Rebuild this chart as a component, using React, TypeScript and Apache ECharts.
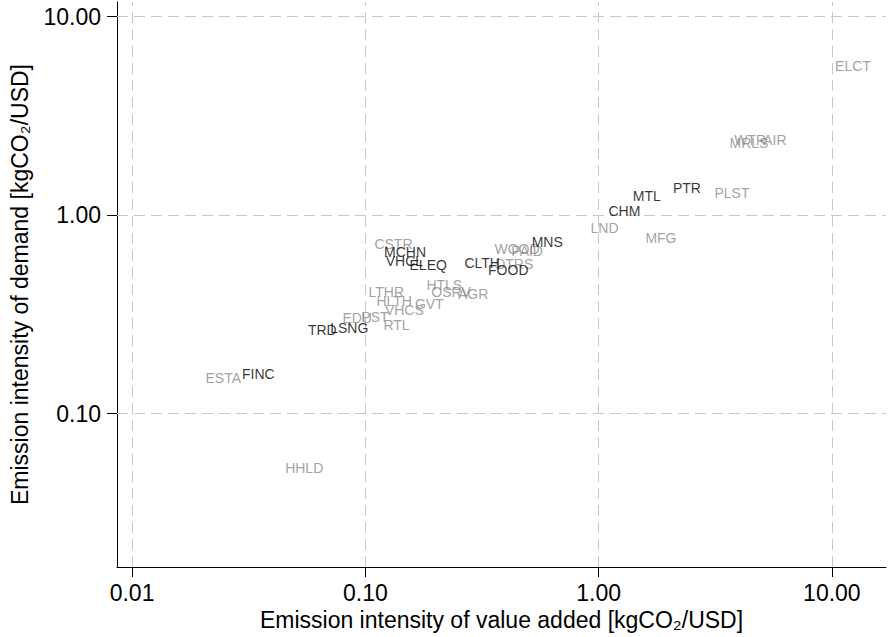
import React, { useEffect, useRef } from "react";
import * as echarts from "echarts";

const sectors = ["ELCT", "MRLS", "WTR", "AIR", "PLST", "PTR", "MTL", "CHM", "LND", "MFG", "MNS", "WOOD", "PAID", "DTRS", "FOOD", "CLTH", "ELEQ", "VHCL", "MCHN", "CSTR", "HTLS", "OSRV", "AGR", "LTHR", "HLTH", "GVT", "VHCS", "EDU", "PST", "RTL", "LSNG", "TRD", "ESTA", "FINC", "HHLD"];
const valueAddedIntensity = [12.31, 4.41, 4.46, 5.7, 3.73, 2.39, 1.61, 1.29, 1.06, 1.85, 0.602, 0.447, 0.494, 0.435, 0.41, 0.317, 0.186, 0.147, 0.148, 0.132, 0.218, 0.233, 0.29, 0.123, 0.133, 0.188, 0.147, 0.0923, 0.11, 0.136, 0.0853, 0.0654, 0.0246, 0.0348, 0.0547];
const demandIntensity = [5.64, 2.31, 2.39, 2.39, 1.29, 1.37, 1.25, 1.05, 0.86, 0.766, 0.731, 0.674, 0.659, 0.566, 0.528, 0.573, 0.56, 0.586, 0.651, 0.714, 0.444, 0.409, 0.4, 0.409, 0.368, 0.356, 0.332, 0.302, 0.306, 0.279, 0.269, 0.263, 0.151, 0.158, 0.053];
const highlighted = ["PTR", "MTL", "CHM", "MNS", "FOOD", "CLTH", "ELEQ", "VHCL", "MCHN", "LSNG", "TRD", "FINC"];
const xTickValues = [0.01, 0.1, 1, 10];
const yTickValues = [0.1, 1, 10];

const FONT = "'Liberation Sans', Arial, Helvetica, sans-serif";
const GRAY = "#8a8a8a";

export default function App() {
  const ref = useRef<HTMLDivElement>(null);
  useEffect(() => {
    if (!ref.current) return;
    const chart = echarts.init(ref.current, null, { renderer: "svg" });
    const points = sectors.map((s, i) => ({ name: s, value: [valueAddedIntensity[i], demandIntensity[i]] }));
    const grayPts = points.filter((p) => !highlighted.includes(p.name));
    const blackPts = points.filter((p) => highlighted.includes(p.name));
    const fmt = (v: number) => Number(v).toFixed(2);
    const axisCommon = {
      type: "log",
      logBase: 10,
      nameLocation: "middle",
      nameTextStyle: { fontSize: 23, color: "#000", fontFamily: FONT },
      axisLine: { show: true, onZero: false, lineStyle: { color: "#000", width: 1 } },
      minorTick: { show: false },
      minorSplitLine: { show: false },
      splitLine: { show: false },
    };
    const tick = (vals: number[]) => ({ show: true, length: 10, inside: false, customValues: vals, lineStyle: { color: "#000", width: 1 } });
    const label = (vals: number[], margin: number) => ({
      show: true,
      customValues: vals,
      formatter: fmt,
      fontSize: 23,
      color: "#000",
      fontFamily: FONT,
      margin,
    });
    const mkSeries = (data: any[], color: string, extra: any = {}) => ({
      type: "scatter",
      data,
      z: 3,
      symbolSize: 1,
      itemStyle: { color: "rgba(0,0,0,0)" },
      label: {
        show: true,
        position: "inside",
        formatter: (p: any) => p.name,
        color,
        fontSize: 14,
        fontFamily: FONT,
        align: "center",
        verticalAlign: "middle",
      },
      emphasis: { disabled: true },
      ...extra,
    });
    chart.setOption({
      animation: false,
      backgroundColor: "#fff",
      grid: { left: 117, right: 4, top: 2, bottom: 70, containLabel: false },
      xAxis: {
        ...axisCommon,
        min: 0.00862,
        max: 17.06,
        name: "Emission intensity of value added [kgCO₂/USD]",
        nameGap: 37,
        axisTick: tick(xTickValues),
        axisLabel: label(xTickValues, 14),
      },
      yAxis: {
        ...axisCommon,
        min: 0.01684,
        max: 11.86,
        name: "Emission intensity of demand [kgCO₂/USD]",
        nameGap: 86,
        axisTick: tick(yTickValues),
        axisLabel: label(yTickValues, 16),
      },
      series: [
        mkSeries(grayPts, GRAY, {
          markLine: {
            silent: true,
            z: 1,
            symbol: "none",
            animation: false,
            label: { show: false },
            emphasis: { disabled: true },
            lineStyle: { color: "#c8c8c8", width: 1, type: [11, 6] },
            data: [...xTickValues.map((v) => ({ xAxis: v })), ...yTickValues.map((v) => ({ yAxis: v }))],
          },
        }),
        mkSeries(blackPts, "#000"),
      ],
    });
    return () => chart.dispose();
  }, []);
  return <div ref={ref} style={{ position: "fixed", left: 0, top: 0, width: 890, height: 637, background: "#fff" }} />;
}
